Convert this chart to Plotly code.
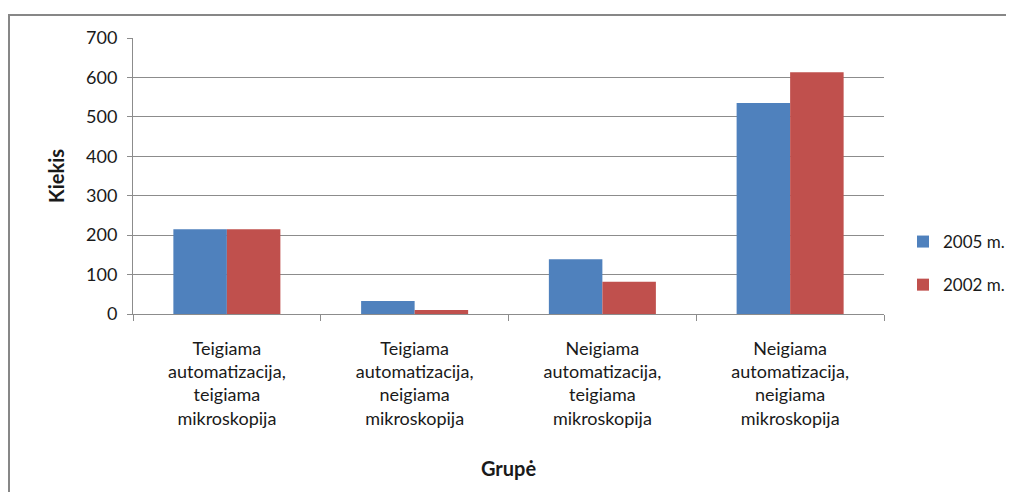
import plotly.graph_objects as go

categories = [
    "Teigiama<br>automatizacija,<br>teigiama<br>mikroskopija",
    "Teigiama<br>automatizacija,<br>neigiama<br>mikroskopija",
    "Neigiama<br>automatizacija,<br>teigiama<br>mikroskopija",
    "Neigiama<br>automatizacija,<br>neigiama<br>mikroskopija",
]
series_2005 = [215, 33, 139, 535]
series_2002 = [215, 10, 82, 613]
y_ticks = [0, 100, 200, 300, 400, 500, 600, 700]

FONT = "Lato"
GRID = "#8c8c8c"
W, H = 1000, 486
L, R, T, B = 125, 124, 30, 180
PW, PH = W - L - R, H - T - B

fig = go.Figure()
fig.add_trace(go.Bar(x=categories, y=series_2005, name="2005 m.", legendgroup="a",
                     marker=dict(color="#4F81BD", line=dict(width=0))))
fig.add_trace(go.Bar(x=categories, y=series_2002, name="2002 m.", legendgroup="b",
                     marker=dict(color="#C0504D", line=dict(width=0))))

fig.update_layout(
    width=W, height=H,
    margin=dict(l=L, r=R, t=T, b=B, autoexpand=False),
    paper_bgcolor="white", plot_bgcolor="white",
    barmode="group", bargap=0.43, bargroupgap=0,
    font=dict(family=FONT, size=16, color="#1a1a1a"),
    showlegend=True,
    legend=dict(x=(895 - L) / PW, y=(PH + T - 255.5) / PH, xanchor="left", yanchor="middle",
                font=dict(family=FONT, size=17), traceorder="grouped", tracegroupgap=18,
                bgcolor="rgba(0,0,0,0)"),
    xaxis=dict(
        type="category", showline=True, linecolor=GRID, linewidth=1,
        ticks="outside", tickson="boundaries", ticklen=6, tickcolor=GRID,
        tickfont=dict(family=FONT, size=18), ticklabelstandoff=18,
        title=dict(text="<b>Grupė</b>", font=dict(family=FONT, size=20), standoff=34),
        showgrid=False,
    ),
    yaxis=dict(
        range=[0, 700], tickvals=y_ticks, showgrid=True, gridcolor=GRID, gridwidth=1,
        showline=True, linecolor=GRID, linewidth=1,
        ticks="outside", ticklen=5, tickcolor=GRID,
        tickfont=dict(family=FONT, size=18), ticklabelstandoff=6,
        title=dict(text="<b>Kiekis</b>", font=dict(family=FONT, size=20), standoff=16),
        zeroline=False,
    ),
)

# outer chart-area border (left and top edges visible), kept inside the figure
bx0 = (1 - L) / PW
bx1 = (W - 2 - L) / PW
by0 = -(B - 2) / PH
by1 = (PH + T - 7) / PH
fig.add_shape(type="path", xref="paper", yref="paper",
              path=f"M {bx0} {by0} L {bx0} {by1} L {bx1} {by1}",
              line=dict(color="#878787", width=2), fillcolor="rgba(0,0,0,0)",
              layer="below")

fig.write_html("out.html")
